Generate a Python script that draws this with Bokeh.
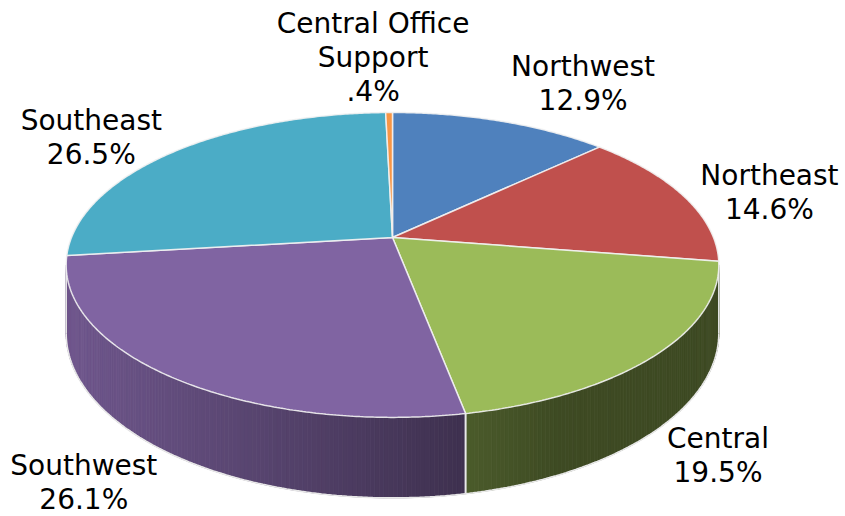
import numpy as np
from bokeh.plotting import figure
from bokeh.models import Range1d
from bokeh.embed import file_html
from bokeh.resources import INLINE
from bokeh.core.properties import value

# ---------------- data ----------------
categories = ["Northwest", "Northeast", "Central", "Southwest", "Southeast", "Central Office Support"]
label_lines = [["Northwest"], ["Northeast"], ["Central"], ["Southwest"], ["Southeast"], ["Central Office", "Support"]]
shares = [12.9, 14.6, 19.5, 26.1, 26.5, 0.4]
pct_labels = ["12.9%", "14.6%", "19.5%", "26.1%", "26.5%", ".4%"]
colors = ["#4F81BD", "#C0504D", "#9BBB59", "#8064A2", "#4BACC6", "#F79646"]

# ---------------- layout (pixels) ----------------
W, H = 845, 516
CX, CY = 392.0, 237.0      # apex of the pie on screen
A, B = 321.0, 147.5        # projected radii
K = 0.18                   # perspective factor
D = 66.0                   # thickness
LABEL_OFFSETS = [(82, -38), (86, -3), (62, 101), (-87, 106), (-84, -14), (-16, -55)]
FONT_PX = 28
LINE_H = 34

def proj(theta, r=1.0):
    u = r * np.sin(theta)
    v = r * np.cos(theta)
    w = 1.0 + K * v
    return CX + A * u / w, CY - B * v / w, w

def hex2rgb(h):
    h = h.lstrip("#")
    return tuple(int(h[i:i + 2], 16) for i in (0, 2, 4))

def shade(hexcol, f):
    r, g, b = hex2rgb(hexcol)
    return "#%02x%02x%02x" % tuple(int(max(0, min(255, c * f))) for c in (r, g, b))

def side_factor(x):
    t = (464.0 - x) / 398.0
    return max(0.40, 0.49 + 0.38 * t)

p = figure(width=W, height=H, output_backend="svg", toolbar_location=None,
           x_range=Range1d(0, W), y_range=Range1d(H, 0),
           min_border=0, outline_line_color=None)
p.axis.visible = False
p.grid.visible = False
p.background_fill_color = "white"
p.border_fill_color = "white"

total = float(sum(shares))
cum = np.concatenate([[0.0], np.cumsum(shares)]) / total * 2 * np.pi
th_r = np.arccos(-K)
th_l = 2 * np.pi - th_r

# ---------------- side walls ----------------
sx, sy, sc = [], [], []
edge_xs, edge_ys = [], []
for i in range(len(shares)):
    a0, a1 = max(cum[i], th_r), min(cum[i + 1], th_l)
    if a1 <= a0:
        continue
    n = max(2, int(np.degrees(a1 - a0) * 1.5))
    ts = np.linspace(a0, a1, n + 1)
    for j in range(n):
        t0, t1 = ts[j], ts[j + 1]
        x0, y0, w0 = proj(t0)
        x1, y1, w1 = proj(t1)
        sx.append([x0, x1, x1, x0])
        sy.append([y0, y1, y1 + D / w1, y0 + D / w0])
        sc.append(shade(colors[i], side_factor(0.5 * (x0 + x1))))
    tt = np.linspace(a0, a1, 120)
    xb, yb, wb = proj(tt)
    edge_xs.append(list(xb))
    edge_ys.append(list(yb + D / wb))
    for t in (a0, a1):
        xe, ye, we = proj(t)
        edge_xs.append([xe, xe])
        edge_ys.append([ye, ye + D / we])

p.patches(sx, sy, fill_color=sc, line_color=sc, line_width=0.8)
p.multi_line(edge_xs, edge_ys, line_color="#E8E8E8", line_width=1.6)

# ---------------- top faces ----------------
tx, ty = [], []
for i in range(len(shares)):
    n = max(3, int(np.degrees(cum[i + 1] - cum[i]) * 2))
    tt = np.linspace(cum[i], cum[i + 1], n + 1)
    xa, ya, _ = proj(tt)
    tx.append([CX] + list(xa))
    ty.append([CY] + list(ya))
p.patches(tx, ty, fill_color=colors, line_color="#F2F2F2", line_width=1.5, line_alpha=0.9)

# ---------------- labels ----------------
lx, ly, lt = [], [], []
for i in range(len(shares)):
    mid = 0.5 * (cum[i] + cum[i + 1])
    ax, ay, _ = proj(mid)
    cx_l = ax + LABEL_OFFSETS[i][0]
    cy_l = ay + LABEL_OFFSETS[i][1]
    lines = label_lines[i] + [pct_labels[i]]
    nl = len(lines)
    for j, s in enumerate(lines):
        lx.append(cx_l)
        ly.append(cy_l + (j - (nl - 1) / 2.0) * LINE_H)
        lt.append(s)
p.text(lx, ly, text=lt, text_font=value("DejaVu Sans"), text_font_size=value("%dpx" % FONT_PX),
       text_align="center", text_baseline="middle", text_color="#000000")

open("out.html", "w").write(file_html(p, INLINE))
